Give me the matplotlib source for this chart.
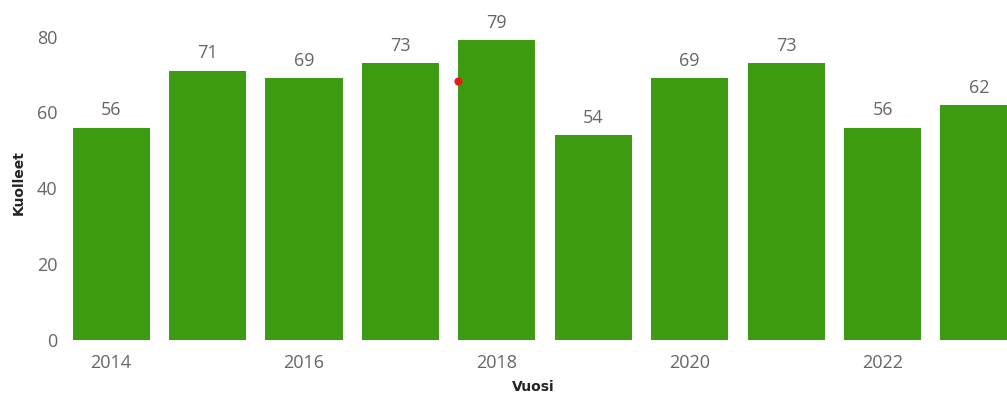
import matplotlib.pyplot as plt

years = [2014, 2015, 2016, 2017, 2018, 2019, 2020, 2021, 2022, 2023]
deaths = [56, 71, 69, 73, 79, 54, 69, 73, 56, 62]
tick_years = [2014, 2016, 2018, 2020, 2022]
y_ticks = [0, 20, 40, 60, 80]

# single red marker near the 2018 bar
marker_x = [2017.6]
marker_y = [68.3]

green = '#3d9b11'
grey = '#666666'

fig = plt.figure(figsize=(10.07, 3.96), dpi=100)
ax = fig.add_axes([60 / 1007, (396 - 340) / 396, (1007 - 60) / 1007, 314 / 396])

ax.bar(years, deaths, width=0.8, color=green, zorder=2)
ax.scatter(marker_x, marker_y, s=24, color='#e0201b', zorder=3, clip_on=False)

for x, v in zip(years, deaths):
    ax.annotate(str(v), (x, v), xytext=(0, 6), textcoords='offset points',
                ha='center', va='bottom', fontsize=13, color=grey,
                family='Open Sans')

ax.set_xlim(2013.47, 2023.29)
ax.set_ylim(0, 82.8)
ax.set_xticks(tick_years)
ax.set_xticklabels([str(t) for t in tick_years], family='Open Sans')
ax.set_yticks(y_ticks)
ax.set_yticklabels([str(t) for t in y_ticks], family='Open Sans')
ax.tick_params(axis='both', length=0, labelsize=13, labelcolor=grey)
ax.tick_params(axis='x', pad=10)
ax.tick_params(axis='y', pad=2)

for s in ax.spines.values():
    s.set_visible(False)

ax.set_xlabel('Vuosi', fontsize=10, fontweight='bold', color='#252423', labelpad=6)
ax.set_ylabel('Kuolleet', fontsize=10, fontweight='bold', color='#252423', labelpad=8)

fig.savefig('out.png', dpi=100)
